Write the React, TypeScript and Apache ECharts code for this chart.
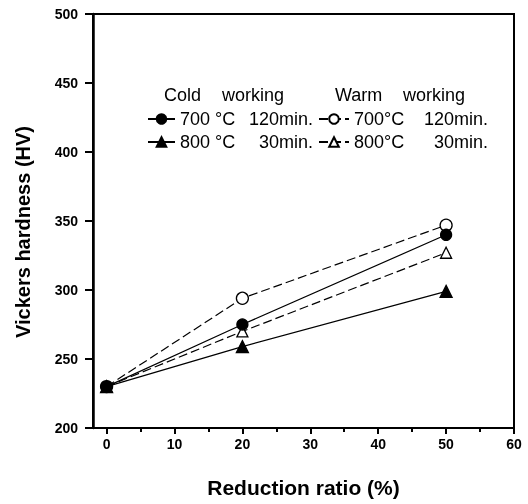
import React, { useEffect, useRef } from "react";
import * as echarts from "echarts";

const reduction = [0, 20, 50];
const cold700 = [230, 275, 340];
const cold800 = [230, 259, 299];
const warm700 = [230, 294, 347];
const warm800 = [230, 270, 327];

const xMajorTicks = [0, 10, 20, 30, 40, 50, 60];
const xMinorTicks = [5, 15, 25, 35, 45, 55];

const seriesNames = {
  c700: "Cold 700 °C 120min.",
  c800: "Cold 800 °C 30min.",
  w700: "Warm 700°C 120min.",
  w800: "Warm 800°C 30min.",
};
const legendLabels: Record<string, [string, string]> = {
  [seriesNames.c700]: ["700 °C", "120min."],
  [seriesNames.c800]: ["800 °C", "30min."],
  [seriesNames.w700]: ["700°C", "120min."],
  [seriesNames.w800]: ["800°C", "30min."],
};

const FONT = "'Liberation Sans', Arial, Helvetica, sans-serif";

function pairs(ys: number[]) {
  return reduction.map((x, i) => [x, ys[i]]);
}

export default function App() {
  const ref = useRef<HTMLDivElement>(null);
  useEffect(() => {
    if (!ref.current) return;
    const chart = echarts.init(ref.current, null, { renderer: "svg" });
    const axisTextStyle = { color: "#000", fontWeight: "bold", fontSize: 14, fontFamily: FONT };
    const legendText = (aw: number, bw: number) => ({
      color: "#000",
      fontSize: 18,
      fontFamily: FONT,
      lineHeight: 20,
      rich: {
        a: { width: aw, fontSize: 18, fontFamily: FONT, color: "#000", lineHeight: 20 },
        b: { width: bw, align: "right", fontSize: 18, fontFamily: FONT, color: "#000", lineHeight: 20 },
      },
    });
    const fmt = (name: string) => {
      const l = legendLabels[name];
      return `{a|${l[0]}}{b|${l[1]}}`;
    };
    const line = (name: string, ys: number[], symbol: string, filled: boolean, dashed: boolean, size: number) => ({
      name,
      type: "line",
      data: pairs(ys),
      symbol,
      symbolSize: size,
      showSymbol: true,
      lineStyle: { color: "#000", width: 1.2, type: dashed ? [9, 4] : "solid" },
      itemStyle: { color: filled ? "#000" : "#fff", borderColor: "#000", borderWidth: 1.3 },
      emphasis: { disabled: true },
    });
    chart.setOption({
      animation: false,
      grid: { left: 93, right: 14, top: 14, bottom: 76, show: true, borderColor: "#000", borderWidth: 2 },
      xAxis: [
        {
          type: "value",
          min: -2,
          max: 60,
          position: "bottom",
          axisLine: { show: true, onZero: false, lineStyle: { color: "#000", width: 2 } },
          axisTick: { show: true, customValues: xMajorTicks, length: 6, lineStyle: { color: "#000", width: 2 } },
          axisLabel: { customValues: xMajorTicks, margin: 9, ...axisTextStyle },
          splitLine: { show: false },
          name: "Reduction ratio (%)",
          nameLocation: "middle",
          nameGap: 49,
          nameTextStyle: { color: "#000", fontWeight: "bold", fontSize: 21, fontFamily: FONT },
        },
        {
          type: "value",
          min: -2,
          max: 60,
          position: "bottom",
          axisLine: { show: false },
          axisTick: { show: true, customValues: xMinorTicks, length: 4, lineStyle: { color: "#000", width: 2 } },
          axisLabel: { show: false },
          splitLine: { show: false },
        },
      ],
      yAxis: {
        type: "value",
        min: 200,
        max: 500,
        interval: 50,
        axisLine: { show: true, onZero: false, lineStyle: { color: "#000", width: 2.5 } },
        axisTick: { show: true, length: 8, lineStyle: { color: "#000", width: 2 } },
        axisLabel: { margin: 15, ...axisTextStyle },
        splitLine: { show: false },
        name: "Vickers hardness (HV)",
        nameLocation: "middle",
        nameGap: 60,
        nameTextStyle: { color: "#000", fontWeight: "bold", fontSize: 20, fontFamily: FONT, padding: [0, 22, 0, 0] },
      },
      legend: [
        {
          data: [seriesNames.c700, seriesNames.c800],
          orient: "vertical",
          left: 147,
          top: 109,
          itemWidth: 27,
          itemHeight: 12,
          itemGap: 3,
          selectedMode: false,
          padding: 0,
          formatter: fmt,
          textStyle: legendText(68, 65),
        },
        {
          data: [seriesNames.w700, seriesNames.w800],
          orient: "vertical",
          left: 318,
          top: 109,
          itemWidth: 30,
          itemHeight: 12,
          itemGap: 3,
          selectedMode: false,
          padding: 0,
          formatter: fmt,
          textStyle: legendText(64, 70),
        },
      ],
      graphic: [
        { type: "text", x: 164, y: 95, style: { text: "Cold", fontSize: 18, fontFamily: FONT, fill: "#000", verticalAlign: "middle" } },
        { type: "text", x: 222, y: 95, style: { text: "working", fontSize: 18, fontFamily: FONT, fill: "#000", verticalAlign: "middle" } },
        { type: "text", x: 335, y: 95, style: { text: "Warm", fontSize: 18, fontFamily: FONT, fill: "#000", verticalAlign: "middle" } },
        { type: "text", x: 403, y: 95, style: { text: "working", fontSize: 18, fontFamily: FONT, fill: "#000", verticalAlign: "middle" } },
      ],
      series: [
        line(seriesNames.w700, warm700, "circle", false, true, 12),
        line(seriesNames.w800, warm800, "triangle", false, true, 11),
        line(seriesNames.c700, cold700, "circle", true, false, 11),
        line(seriesNames.c800, cold800, "triangle", true, false, 12),
      ],
    });
    return () => chart.dispose();
  }, []);
  return <div ref={ref} style={{ position: "fixed", left: 0, top: 0, width: 528, height: 504 }} />;
}
